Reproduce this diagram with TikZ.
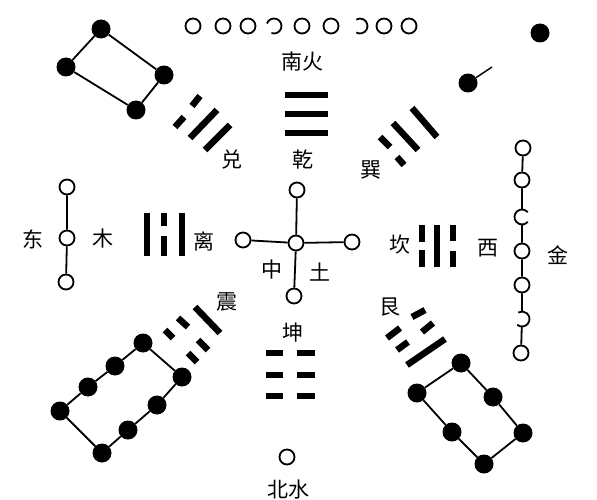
\documentclass[tikz,border=0pt]{standalone}
\usepackage{fontspec}
\newfontfamily\cjk{Noto Sans CJK SC}

\tikzstyle{ring}=[circle, draw, line width=1.8pt, minimum size=15pt, inner sep=0pt]
\tikzstyle{hole}=[circle, minimum size=16pt, inner sep=0pt]
\tikzstyle{dot}=[circle, fill, minimum size=19pt, inner sep=0pt]
\tikzstyle{link}=[line width=1.8pt]
\tikzstyle{arcline}=[line width=1.8pt]
\tikzstyle{bar}=[line width=6.5pt]
\tikzstyle{lbl}=[font=\cjk\fontsize{21}{21}\selectfont, inner sep=0pt]

\begin{document}
\begin{tikzpicture}[x=1pt, y=-1pt]
    \useasboundingbox (0,0) rectangle (597,500);

    \node[ring] (t1) at (193,26) {};
    \node[ring] (t2) at (223,26) {};
    \node[ring] (t3) at (248,26) {};
    \node[hole] (t4) at (274,26) {};
    \node[ring] (t5) at (302,26) {};
    \node[ring] (t6) at (331,26) {};
    \node[hole] (t7) at (360,26) {};
    \node[ring] (t8) at (384,26) {};
    \node[ring] (t9) at (409,26) {};
    \draw[arcline] (t4) ++(-250:7.5) arc[start angle=-250, end angle=-520, radius=7.5];
    \draw[arcline] (t7) ++(-240:7.5) arc[start angle=-240, end angle=-480, radius=7.5];

    \node[lbl] (nanhuo) at (302,62) {南火};
    \node[lbl] (qian) at (303,160) {乾};
    \node[lbl] (dui) at (232,160) {兑};
    \node[lbl] (xun) at (371,170) {巽};
    \node[lbl] (li) at (204,241) {离};
    \node[lbl] (kan) at (400,245) {坎};
    \node[lbl] (zhen) at (227,302) {震};
    \node[lbl] (gen) at (390,307) {艮};
    \node[lbl] (kun) at (293,333) {坤};
    \node[lbl] (dong) at (33,239) {东};
    \node[lbl] (mu) at (103,239) {木};
    \node[lbl] (xi) at (488,248) {西};
    \node[lbl] (jin) at (558,255) {金};
    \node[lbl] (zhong) at (272,270) {中};
    \node[lbl] (tu) at (320,272) {土};
    \node[lbl] (beishui) at (288,490) {北水};

    \draw[bar] (285,95) -- (328,95);
    \draw[bar] (285,114) -- (328,114);
    \draw[bar] (285,133) -- (328,133);

    \draw[bar] (266,353) -- (283,353);
    \draw[bar] (297,353) -- (315,353);
    \draw[bar] (266,375) -- (283,375);
    \draw[bar] (297,375) -- (315,375);
    \draw[bar] (266,396) -- (283,396);
    \draw[bar] (297,396) -- (315,396);

    \draw[bar] (147,213) -- (147,256);
    \draw[bar] (164,213) -- (164,226);
    \draw[bar] (164,236) -- (164,256);
    \draw[bar] (182,213) -- (182,256);

    \draw[bar] (422,225) -- (422,242);
    \draw[bar] (422,250) -- (422,267);
    \draw[bar] (437,225) -- (437,267);
    \draw[bar] (453,225) -- (453,241);
    \draw[bar] (453,251) -- (453,267);

    \draw[bar] (200,96) -- (192,106);
    \draw[bar] (184,117) -- (175,127);
    \draw[bar] (217,110) -- (190,138);
    \draw[bar] (230,125) -- (205,150);

    \draw[bar] (412,108) -- (437,137);
    \draw[bar] (393,123) -- (418,150);
    \draw[bar] (380,137) -- (390,147);
    \draw[bar] (397,157) -- (404,165);

    \draw[bar] (195,307) -- (220,333);
    \draw[bar] (178,318) -- (188,327);
    \draw[bar] (198,340) -- (208,350);
    \draw[bar] (165,330) -- (173,338);
    \draw[bar] (188,353) -- (197,362);

    \draw[bar] (387,338) -- (400,328);
    \draw[bar] (412,317) -- (425,310);
    \draw[bar] (397,350) -- (408,342);
    \draw[bar] (422,332) -- (433,323);
    \draw[bar] (407,365) -- (445,339);

    \node[ring] (c0) at (296,243) {};
    \node[ring] (cn) at (297,190) {};
    \node[ring] (cw) at (243,240) {};
    \node[ring] (ce) at (352,242) {};
    \node[ring] (cs) at (294,296) {};
    \draw[link] (c0) -- (cn);
    \draw[link] (c0) -- (cw);
    \draw[link] (c0) -- (ce);
    \draw[link] (c0) -- (cs);

    \node[ring] (e1) at (67,187) {};
    \node[ring] (e2) at (67,238) {};
    \node[ring] (e3) at (66,282) {};
    \draw[link] (e1) -- (e2) -- (e3);

    \node[ring] (w1) at (523,148) {};
    \node[ring] (w2) at (522,180) {};
    \node[hole] (w3) at (522,217) {};
    \node[ring] (w4) at (522,251) {};
    \node[ring] (w5) at (522,285) {};
    \node[hole] (w6) at (522,319) {};
    \node[ring] (w7) at (521,353) {};
    \draw[arcline] (w3) ++(-40:7.5) arc[start angle=-40, end angle=-320, radius=7.5];
    \draw[arcline] (w6) ++(-230:7.5) arc[start angle=-230, end angle=-480, radius=7.5];
    \draw[link] (w1) -- (w2) -- (w3) -- (w4) -- (w5) -- (w6) -- (w7);

    \node[ring] (b1) at (287,457) {};

    \node[dot] (ur1) at (540,33) {};
    \node[dot] (ur2) at (468,83) {};
    \coordinate (tail) at (492,67);
    \draw[link, line width=1.4pt] (ur2) -- (tail);

    \node[dot] (ul1) at (101,29) {};
    \node[dot] (ul2) at (164,75) {};
    \node[dot] (ul3) at (136,110) {};
    \node[dot] (ul4) at (66,67) {};
    \draw[link] (ul1) -- (ul2) -- (ul3) -- (ul4) -- (ul1);

    \node[dot] (ll1) at (143,343) {};
    \node[dot] (ll2) at (115,366) {};
    \node[dot] (ll3) at (88,387) {};
    \node[dot] (ll4) at (60,411) {};
    \node[dot] (ll5) at (102,453) {};
    \node[dot] (ll6) at (128,430) {};
    \node[dot] (ll7) at (157,405) {};
    \node[dot] (ll8) at (182,377) {};
    \draw[link] (ll1) -- (ll2) -- (ll3) -- (ll4) -- (ll5) -- (ll6) -- (ll7) -- (ll8) -- (ll1);

    \node[dot] (lr1) at (461,363) {};
    \node[dot] (lr2) at (493,397) {};
    \node[dot] (lr3) at (523,433) {};
    \node[dot] (lr4) at (484,464) {};
    \node[dot] (lr5) at (452,432) {};
    \node[dot] (lr6) at (417,393) {};
    \draw[link] (lr1) -- (lr2) -- (lr3) -- (lr4) -- (lr5) -- (lr6) -- (lr1);
\end{tikzpicture}
\end{document}
